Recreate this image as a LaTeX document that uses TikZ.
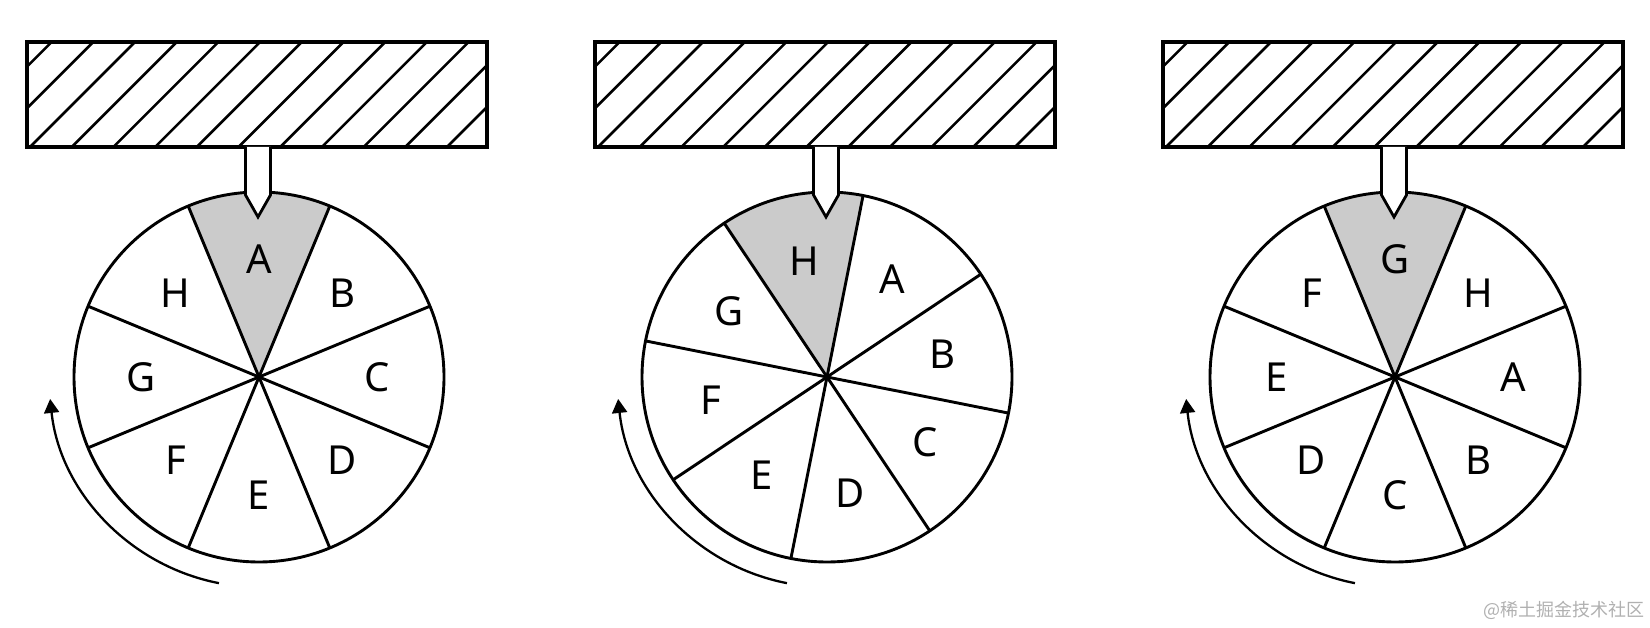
\documentclass[tikz,border=0pt]{standalone}
\usepackage{fontspec}
\setmainfont{Noto Sans}
\newfontfamily\cjkfont{Noto Sans CJK SC}
\usetikzlibrary{arrows.meta}
\definecolor{sectorgray}{HTML}{CBCBCB}
\definecolor{wmgray}{HTML}{B0B0B0}
\begin{document}
\begin{tikzpicture}[x=0.5pt,y=0.5pt,
  wheel/.style={line width=1.45pt,line join=round},
  blockst/.style={line width=1.7pt},
  hatchst/.style={line width=1.3pt},
  pointerst/.style={line width=1.4pt,line join=miter,fill=white},
  rotarrow/.style={line width=1.15pt,-{Triangle[length=7pt,width=7.5pt]}},
  lab/.style={font=\fontsize{20}{21}\selectfont,inner sep=0pt},
  wm/.style={font=\cjkfont\fontsize{9}{10}\selectfont,text=wmgray,inner sep=0pt}]
\useasboundingbox (0,0) rectangle (1650,627);
\foreach \p/\cx/\rot/\start in {1/259/0/0, 2/827/11.25/7, 3/1395/0/6}{
  \coordinate (c\p) at (\cx,250);
  % hatched block
  \begin{scope}
    \clip (\cx-232,480) rectangle (\cx+228,585);
    \foreach \k in {-3,...,10}
      \draw[hatchst] (\cx-229+41.7*\k,480) -- ++(125,125);
  \end{scope}
  \draw[blockst] (\cx-232,480) rectangle (\cx+228,585);
  % gray sector
  \fill[sectorgray] (c\p) -- ++(67.5+\rot:185) arc[start angle=67.5+\rot, end angle=112.5+\rot, radius=185] -- cycle;
  % wheel
  \draw[wheel] (c\p) circle[radius=185];
  \foreach \a in {22.5,67.5,112.5,157.5}
    \draw[wheel] (c\p) ++(\a+\rot:185) -- ++(\a+180+\rot:370);
  % letters
  \foreach \k in {0,...,7}{
    \pgfmathsetmacro\ang{90+\rot-45*\k}
    \pgfmathsetmacro\lab{{"A","B","C","D","E","F","G","H"}[mod(\k+\start,8)]}
    \node[lab] (p\p l\k) at ([shift={(\ang:118)}]c\p) {\lab};
  }
  % pointer
  \draw[pointerst] (\cx-13.5,480) -- (\cx-13.5,432) -- (\cx-1,410) -- (\cx+11.5,432) -- (\cx+11.5,480);
  % rotation arrow
  \draw[rotarrow] (c\p) ++(259:210) arc[start angle=259, end angle=186, radius=210];
}
\node[wm] (wm) at (1564,17) {@稀土掘金技术社区};
\end{tikzpicture}
\end{document}
